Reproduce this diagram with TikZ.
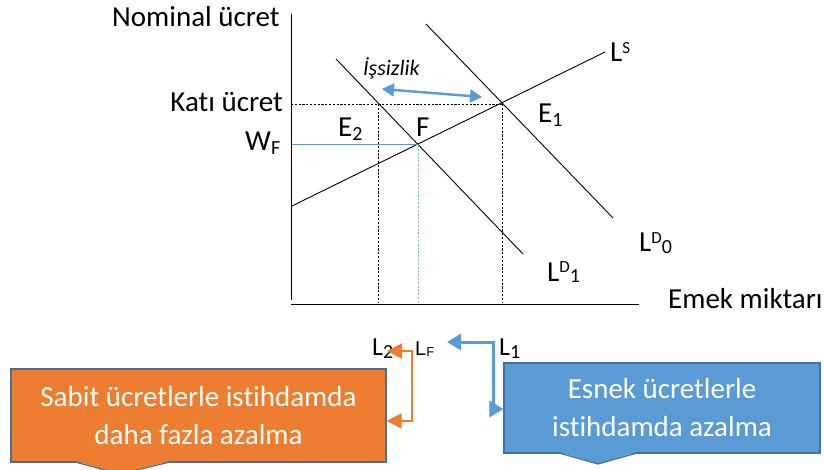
\documentclass[tikz,border=0pt]{standalone}
\usepackage{fontspec}
\setmainfont{Carlito}[Ligatures=NoCommon]
\usetikzlibrary{arrows.meta}
\definecolor{cblue}{HTML}{5B9BD5}
\definecolor{corange}{HTML}{ED7D31}
\definecolor{cedge}{HTML}{41719C}
\tikzset{
  lbl/.style={inner sep=0pt, anchor=base west},
  curve/.style={black, line width=0.9pt},
  guide/.style={black, line width=0.8pt, dash pattern=on 2.2pt off 1.6pt},
  callbox/.style={rectangle, draw=cedge, line width=1.2pt, text=white,
     align=center, font=\fontsize{29}{38}\selectfont, inner sep=0pt},
  otip/.tip={Triangle[length=15pt,width=15pt]},
  btip/.tip={Triangle[length=14pt,width=16pt]},
}
\newcommand{\sub}[1]{\raisebox{-0.12em}{\fontsize{20}{20}\selectfont #1}}
\newcommand{\sups}[1]{\raisebox{8.5pt}{\fontsize{17}{17}\selectfont #1}}
\begin{document}
\begin{tikzpicture}[x=1pt,y=-1pt, font=\fontsize{29}{34}\selectfont]
\useasboundingbox (0,0) rectangle (824,470);
% axes
\coordinate (yt) at (291,14);
\coordinate (o) at (291,300);
\coordinate (xe) at (639,304);
\coordinate (xs) at (291,304);
\draw[line width=1pt] (yt) -- (o);
\draw[line width=1pt] (xs) -- (xe);
% curves
\coordinate (lsA) at (292,206); \coordinate (lsB) at (605,52);
\coordinate (d0A) at (426,24);  \coordinate (d0B) at (613,218);
\coordinate (d1A) at (336,59);  \coordinate (d1B) at (523,254);
\draw[curve] (lsA) -- (lsB);
\draw[curve] (d0A) -- (d0B);
\draw[curve] (d1A) -- (d1B);
% points
\coordinate (E1) at (502,104);
\coordinate (E2) at (378,104);
\coordinate (Fp) at (418,145);
\coordinate (ky) at (291,104);
\coordinate (wy) at (292,145);
\coordinate (x2) at (378,302);
\coordinate (x1) at (502,302);
\coordinate (xf) at (418,302);
\draw[guide] (ky) -- (E1);
\draw[guide] (E2) -- (x2);
\draw[guide] (E1) -- (x1);
\draw[cblue, line width=1pt] (wy) -- (Fp);
\draw[cblue!75, line width=1pt, dash pattern=on 2.2pt off 1.6pt] (Fp) -- (xf);
% unemployment arrow
\coordinate (uA) at (382,89);
\coordinate (uB) at (482,97);
\draw[cblue, line width=2.4pt, {Triangle[length=12pt,width=13pt]}-{Triangle[length=12pt,width=13pt]}] (uA) -- (uB);
\node[lbl, font=\fontsize{22}{22}\selectfont\itshape] (unemp) at (363,76) {İşsizlik};
% labels
\node[lbl] (ylab) at (112,27) {Nominal ücret};
\node[lbl, anchor=base east] (kati) at (283,112) {Katı ücret};
\node[lbl] (wf) at (245,151) {W\sub{F}};
\node[lbl] (e2) at (338,137) {E\sub{2}};
\node[lbl, fill=white, inner xsep=1pt] (f) at (415,137) {F};
\node[lbl] (e1) at (538,123) {E\sub{1}};
\node[lbl] (ls) at (610,62) {L\sups{S}};
\node[lbl] (ld0) at (639,252) {L\sups{D}\raisebox{-0.05em}{\fontsize{20}{20}\selectfont 0}};
\node[lbl] (ld1) at (547,281) {L\sups{D}\raisebox{-0.05em}{\fontsize{20}{20}\selectfont 1}};
\node[lbl] (xlab) at (668,308) {Emek miktarı};
% bottom labels
\node[lbl, font=\fontsize{26}{26}\selectfont] (l2) at (372,355) {L\sub{2}};
\node[lbl] (lf) at (415,355) {\fontspec{Liberation Sans}\fontsize{20}{20}\selectfont L\raisebox{-0.05em}{\fontsize{13}{13}\selectfont F}};
\node[lbl, font=\fontsize{26}{26}\selectfont] (l1) at (499,355) {L\sub{1}};
% callout boxes
\node[callbox, fill=corange, minimum width=375pt, minimum height=93pt] (ob) at (198.5,415.5)
      {Sabit ücretlerle istihdamda\\daha fazla azalma};
\fill[corange] (75,461) -- (170,461) -- (120,474) -- cycle;
\draw[cedge, line width=1.2pt, line join=miter] (75,462) -- (120,474) -- (170,462);
\node[callbox, fill=cblue, minimum width=316pt, minimum height=90pt] (bb) at (662,408)
      {Esnek ücretlerle\\istihdamda azalma};
\fill[cblue] (559,452) -- (637,452) -- (598,464) -- cycle;
\draw[cedge, line width=1.2pt, line join=miter] (559,453) -- (598,464) -- (637,453);
% elbow connectors
\coordinate (ot) at (387,351);
\coordinate (oc1) at (412,351);
\coordinate (oc2) at (412,421);
\coordinate (bc1) at (493,342);
\coordinate (bc2) at (493,409);
\coordinate (bt) at (447,342);
\draw[corange, line width=2pt, {otip}-{otip}] (ot) -- (oc1) -- (oc2) -- (ob.east |- oc2);
\draw[cblue, line width=3pt, {btip}-{btip}] (bt) -- (bc1) -- (bc2) -- (bb.west |- bc2);
\end{tikzpicture}
\end{document}
